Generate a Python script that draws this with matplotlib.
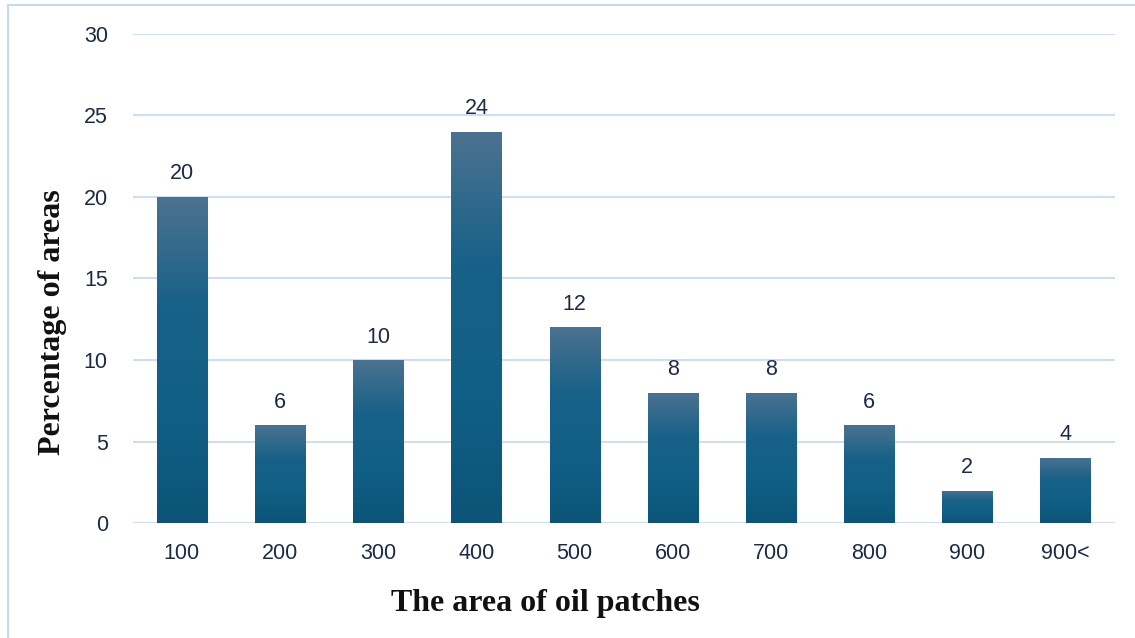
import matplotlib.pyplot as plt
import numpy as np
from matplotlib.colors import LinearSegmentedColormap
from matplotlib.patches import Rectangle

categories = ["100", "200", "300", "400", "500", "600", "700", "800", "900", "900<"]
values = [20, 6, 10, 24, 12, 8, 8, 6, 2, 4]

plt.rcParams["font.family"] = ["Liberation Sans", "DejaVu Sans"]
text_color = "#1c2b45"
grid_color = "#cfdff1"

fig = plt.figure(figsize=(11.35, 6.38), dpi=100)
ax = fig.add_axes([0.117, 0.180, 0.865, 0.767])

x = np.arange(len(categories))
bars = ax.bar(x, values, width=0.51, color="none", zorder=3)

cmap = LinearSegmentedColormap.from_list(
    "barfill", ["#0c5478", "#115f86", "#186188", "#4c7290"])
grad = np.linspace(0, 1, 256).reshape(-1, 1)
for b in bars:
    x0, y0 = b.get_x(), b.get_y()
    w, h = b.get_width(), b.get_height()
    im = ax.imshow(grad, cmap=cmap, aspect="auto", origin="lower",
                   extent=[x0, x0 + w, y0, y0 + h], zorder=3)
    im.set_clip_path(b)

for xi, v in zip(x, values):
    ax.annotate(str(v), (xi, v), xytext=(0, 9), textcoords="offset points",
                ha="center", va="bottom", fontsize=15.5, color=text_color)

ax.set_xlim(-0.5, len(categories) - 0.5)
ax.set_ylim(0, 30)
ax.set_yticks([0, 5, 10, 15, 20, 25, 30])
ax.set_xticks(x)
ax.set_xticklabels(categories)
ax.tick_params(axis="both", length=0, labelsize=15.5, labelcolor=text_color)
ax.tick_params(axis="y", pad=18)
ax.tick_params(axis="x", pad=14)
ax.yaxis.grid(True, color=grid_color, linewidth=1.5, zorder=0)
ax.set_axisbelow(True)
for s in ax.spines.values():
    s.set_visible(False)

ax.set_xlabel("The area of oil patches", fontsize=23, fontweight="bold",
              family="Liberation Serif", color="#111111", labelpad=20)
ax.set_ylabel("Percentage of areas", fontsize=23, fontweight="bold",
              family="Liberation Serif", color="#111111", labelpad=12)
ax.xaxis.set_label_coords(0.4206, -0.135)
ax.yaxis.label.set_y(0.411)

fig.patches.append(Rectangle((8 / 1135, -0.1), 1.2, 1 - 5 / 638 + 0.1,
                             transform=fig.transFigure, fill=False,
                             edgecolor="#c5d9ee", linewidth=1.5))

fig.savefig("out.png", dpi=100)
plt.close(fig)
